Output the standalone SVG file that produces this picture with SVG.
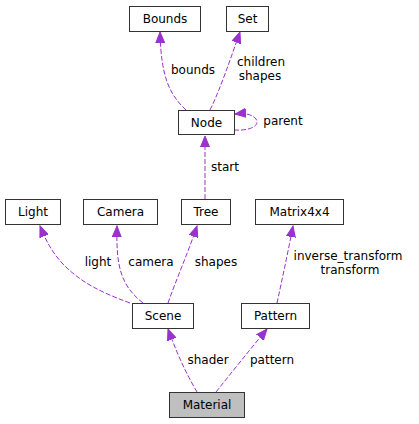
<svg xmlns="http://www.w3.org/2000/svg" width="419" height="424" viewBox="0 0 419 424">
<defs>
<marker id="ah" markerWidth="12" markerHeight="10" refX="11" refY="5" orient="auto" markerUnits="userSpaceOnUse">
<path d="M0,0.5 L11,5 L0,9.5 Z" fill="#9a32cd" stroke="#9a32cd"/>
</marker>
<style>
.n rect{fill:#fff;stroke:#333;stroke-width:1}
.n text,.l{font-family:"DejaVu Sans",sans-serif;font-size:12px;fill:#000}
.n text{text-anchor:middle}
.l{text-anchor:middle}
.e path{fill:none;stroke:#9a32cd;stroke-width:1;stroke-dasharray:5,2;marker-end:url(#ah)}
</style>
</defs>
<rect width="419" height="424" fill="#fff"/>
<g class="e" id="edges">
<path d="M197,392 C190,380 180,362 168,329"/>
<path d="M216,392 C228,377 248,352 267,329"/>
<path d="M130,303 C100,292 80,282 62,263 C52,252 46,241 40,226"/>
<path d="M143,303 C120,285 116,265 117,226"/>
<path d="M168,303 C176,280 188,253 197,226"/>
<path d="M277,303 C282,280 288,252 293,226"/>
<path d="M205,199 L205,136"/>
<path d="M186,110 C170,95 161,78 160,32"/>
<path d="M210,110 C220,90 230,60 240,32"/>
<path d="M234,130 C252,131 260,125 256,119 C252,114 244,113 235,114"/>
</g>
<g class="lbl">
<text class="l" x="208" y="364">shader</text>
<text class="l" x="272" y="364">pattern</text>
<text class="l" x="98" y="266">light</text>
<text class="l" x="151" y="266">camera</text>
<text class="l" x="216" y="266">shapes</text>
<text class="l" x="348" y="260">inverse_transform</text>
<text class="l" x="350" y="274">transform</text>
<text class="l" x="225" y="171">start</text>
<text class="l" x="193" y="74">bounds</text>
<text class="l" x="261" y="66">children</text>
<text class="l" x="260" y="80">shapes</text>
<text class="l" x="283" y="125">parent</text>
</g>
<g class="n" id="Bounds"><rect x="129.5" y="6.5" width="71" height="25"/><text x="165" y="23">Bounds</text></g>
<g class="n" id="Set"><rect x="226.5" y="6.5" width="42" height="25"/><text x="247.5" y="23">Set</text></g>
<g class="n" id="Node"><rect x="178.5" y="110.5" width="56" height="24"/><text x="206.5" y="127">Node</text></g>
<g class="n" id="Light"><rect x="5.5" y="199.5" width="55" height="25"/><text x="33" y="216">Light</text></g>
<g class="n" id="Camera"><rect x="83.5" y="199.5" width="74" height="25"/><text x="120.5" y="216">Camera</text></g>
<g class="n" id="Tree"><rect x="181.5" y="199.5" width="49" height="25"/><text x="206" y="216">Tree</text></g>
<g class="n" id="Matrix4x4"><rect x="255.5" y="199.5" width="88" height="25"/><text x="299.5" y="216">Matrix4x4</text></g>
<g class="n" id="Scene"><rect x="132.5" y="303.5" width="61" height="25"/><text x="163" y="320">Scene</text></g>
<g class="n" id="Pattern"><rect x="241.5" y="303.5" width="68" height="25"/><text x="275.5" y="320">Pattern</text></g>
<g class="n" id="Material"><rect x="169.5" y="392.5" width="75" height="25" style="fill:#bfbfbf"/><text x="207" y="409">Material</text></g>
</svg>
